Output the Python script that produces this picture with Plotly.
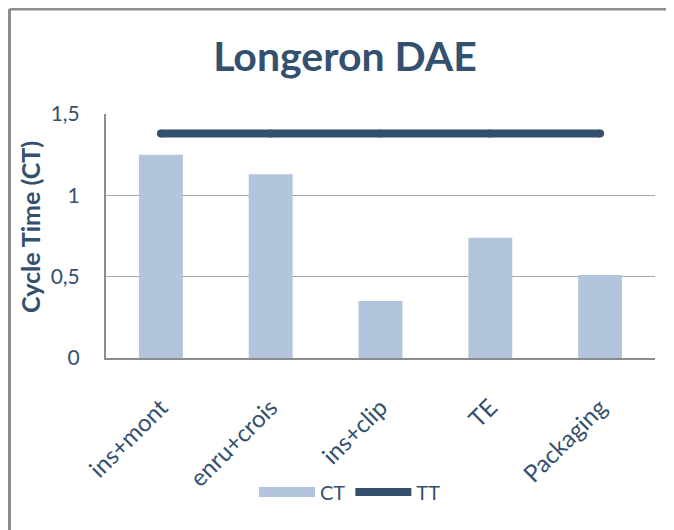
import plotly.graph_objects as go

categories = ["ins+mont", "enru+crois", "ins+clip", "TE", "Packaging"]
ct_values = [1.25, 1.13, 0.35, 0.74, 0.51]
tt_values = [1.38, 1.38, 1.38, 1.38, 1.38]
y_ticks = [0, 0.5, 1, 1.5]

BAR = "#b3c5dc"
DARK = "#34506f"
TXT = "#34506f"
FONT = "Lato, 'Open Sans', sans-serif"

OFF = 8  # page body margin
W, H = 674, 530
# plot area in page pixels
PL, PT, PR, PB = 106, 114, 655, 358
L = PL - OFF
T = PT - OFF
R = W - (PR - OFF)
B = H - (PB - OFF)
pw = W - L - R
ph = H - T - B


def px2x(px):
    return (px - OFF - L) / pw


def py2y(py):
    return (H - B - (py - OFF)) / ph


fig = go.Figure()
fig.add_trace(go.Bar(x=categories, y=ct_values, name="CT", showlegend=False,
                     marker=dict(color=BAR, line=dict(width=0))))
fig.add_trace(go.Scatter(x=[None], y=[None], name="CT", mode="lines",
                         line=dict(color=BAR, width=14)))
fig.add_trace(go.Scatter(x=categories, y=tt_values, name="TT", mode="lines+markers",
                         line=dict(color=DARK, width=8),
                         marker=dict(color=DARK, size=8, line=dict(width=0))))

annotations = [dict(text="<b>Cycle Time (CT)</b>", x=px2x(30), xref="paper",
                    y=py2y(227), yref="paper", xanchor="center", yanchor="middle",
                    textangle=-90, showarrow=False, font=dict(size=25, color=TXT))]

fig.update_layout(
    width=W, height=H,
    margin=dict(l=L, r=R, t=T, b=B),
    paper_bgcolor="white", plot_bgcolor="white",
    separators=",.",
    font=dict(family=FONT, color=TXT, size=20),
    title=dict(text="<b>Longeron DAE</b>", x=(345 - OFF) / W, xanchor="center", xref="container",
               y=1 - (57 - OFF) / H, yanchor="middle", yref="container",
               font=dict(size=41, color=TXT, family=FONT)),
    bargap=0.6,
    showlegend=True,
    legend=dict(orientation="h", x=px2x(350), xanchor="center", y=py2y(492), yanchor="middle",
                font=dict(size=20, color=TXT), itemwidth=56, tracegroupgap=0),
    xaxis=dict(range=[-0.5, 4.5], showgrid=False, showline=True, linecolor="#8c8c8c", linewidth=2,
               tickangle=-45, ticks="", ticklabelstandoff=24,
               tickfont=dict(size=24, color=TXT)),
    yaxis=dict(range=[0, 1.5], tickvals=y_ticks, showgrid=True, gridcolor="#a6a6a6", gridwidth=1,
               showline=True, linecolor="#8c8c8c", linewidth=2, zeroline=False,
               ticks="", ticklabelstandoff=20, tickfont=dict(size=21, color=TXT)),
    annotations=annotations,
    shapes=[
        dict(type="line", xref="paper", yref="paper", x0=px2x(OFF + 1.5), x1=px2x(OFF + 1.5),
             y0=py2y(OFF + 1), y1=py2y(560), line=dict(color="#8c8c8c", width=3)),
        dict(type="line", xref="paper", yref="paper", x0=px2x(OFF + 1.5), x1=px2x(700),
             y0=py2y(OFF + 1), y1=py2y(OFF + 1), line=dict(color="#8c8c8c", width=3)),
    ],
)

fig.write_html("out.html")
